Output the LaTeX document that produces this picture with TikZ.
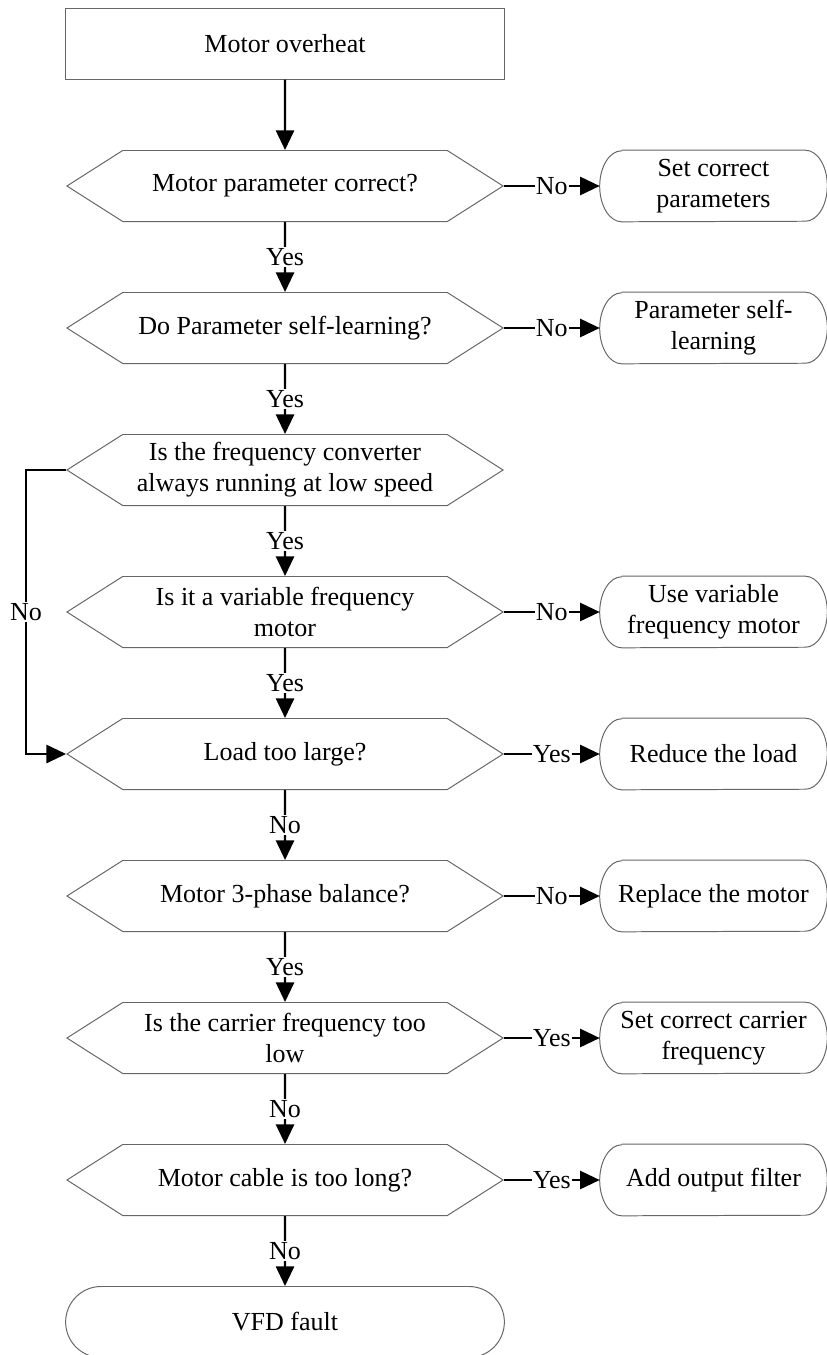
\documentclass[tikz,border=0pt]{standalone}
\usepackage{fontspec}
\setmainfont{Liberation Serif}
\usetikzlibrary{arrows.meta,shapes.symbols,shapes.misc}
\begin{document}
\begin{tikzpicture}[x=0.025cm,y=-0.025cm,
  every node/.style={font=\fontsize{18.5}{22}\selectfont, align=center},
  outline/.style={draw=black!60, line width=0.7pt},
  box/.style={outline, minimum width=10.95cm, minimum height=1.775cm},
  decision/.style={signal, signal to=east and west, signal pointer angle=65, outline, minimum width=10.9cm, minimum height=1.775cm, inner xsep=0pt},
  action/.style={minimum width=5.675cm, minimum height=1.775cm, inner xsep=0pt},
  terminal/.style={rounded rectangle, outline, minimum width=11.2cm, minimum height=1.775cm},
  link/.style={line width=1.5pt, -{Triangle[length=14pt,width=13pt]}},
  lbl/.style={fill=white, inner sep=1pt}]
\useasboundingbox (0,0) rectangle (827,1355);
\node[box] (top) at (285,43.5) {Motor overheat};
\node[decision] (d1) at (285,186) {Motor parameter correct?};
\node[decision] (d2) at (285,328) {Do Parameter self-learning?};
\node[decision] (d3) at (285,470) {Is the frequency converter\\always running at low speed};
\node[decision] (d4) at (285,612) {Is it a variable frequency\\motor};
\node[decision] (d5) at (285,754) {Load too large?};
\node[decision] (d6) at (285,896) {Motor 3-phase balance?};
\node[decision] (d7) at (285,1038) {Is the carrier frequency too\\low};
\node[decision] (d8) at (285,1180) {Motor cable is too long?};
\node[terminal] (end) at (285,1322) {VFD fault};
\node[action] (r1) at (713.5,186) {Set correct\\parameters};
\node[action] (r2) at (713.5,328) {Parameter self-\\learning};
\node[action] (r4) at (713.5,612) {Use variable\\frequency motor};
\node[action] (r5) at (713.5,754) {Reduce the load};
\node[action] (r6) at (713.5,896) {Replace the motor};
\node[action] (r7) at (713.5,1038) {Set correct carrier\\frequency};
\node[action] (r8) at (713.5,1180) {Add output filter};
\foreach \r in {r1,r2,r4,r5,r6,r7,r8}
  \draw[outline] ([xshift=0.55cm]\r.north west) -- ([xshift=-0.55cm]\r.north east)
    arc[start angle=90, end angle=-90, x radius=0.55cm, y radius=0.8875cm]
    -- ([xshift=0.55cm]\r.south west)
    arc[start angle=-90, end angle=-270, x radius=0.55cm, y radius=0.8875cm];
\draw[link] (top) -- (d1);
\draw[link] (d1) -- node[lbl]{Yes} (d2);
\draw[link] (d2) -- node[lbl]{Yes} (d3);
\draw[link] (d3) -- node[lbl]{Yes} (d4);
\draw[link] (d4) -- node[lbl]{Yes} (d5);
\draw[link] (d5) -- node[lbl]{No} (d6);
\draw[link] (d6) -- node[lbl]{Yes} (d7);
\draw[link] (d7) -- node[lbl]{No} (d8);
\draw[link] (d8) -- node[lbl]{No} (end);
\draw[link] (d1.east) -- node[lbl]{No} (r1.west);
\draw[link] (d2.east) -- node[lbl]{No} (r2.west);
\draw[link] (d4.east) -- node[lbl]{No} (r4.west);
\draw[link] (d5.east) -- node[lbl]{Yes} (r5.west);
\draw[link] (d6.east) -- node[lbl]{No} (r6.west);
\draw[link] (d7.east) -- node[lbl]{Yes} (r7.west);
\draw[link] (d8.east) -- node[lbl]{Yes} (r8.west);
\draw[link] (d3.west) -- ++(-40,0) |- node[lbl, pos=0.25]{No} (d5.west);
\end{tikzpicture}
\end{document}
